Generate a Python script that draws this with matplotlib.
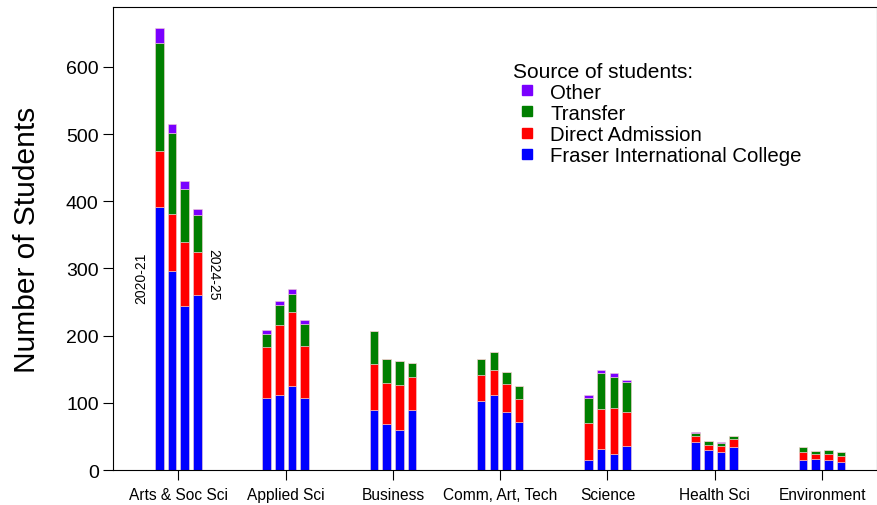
import matplotlib.pyplot as plt
import numpy as np
from matplotlib.lines import Line2D

plt.rcParams['font.family'] = ['Liberation Sans', 'DejaVu Sans']

faculties = ['Arts & Soc Sci', 'Applied Sci', 'Business', 'Comm, Art, Tech',
             'Science', 'Health Sci', 'Environment']

# four years per faculty, 2020-21 ... 2024-25
fic = [[391, 297, 244, 260],
       [107, 111, 125, 108],
       [90, 68, 60, 90],
       [103, 112, 86, 71],
       [15, 31, 24, 36],
       [42, 30, 27, 35],
       [15, 16, 15, 12]]
direct = [[84, 84, 96, 65],
          [76, 105, 110, 77],
          [68, 61, 67, 48],
          [38, 37, 42, 35],
          [55, 60, 69, 51],
          [8, 7, 9, 12],
          [12, 8, 9, 9]]
transfer = [[160, 121, 79, 54],
            [20, 30, 27, 33],
            [49, 36, 35, 21],
            [25, 27, 18, 19],
            [38, 53, 46, 44],
            [5, 6, 5, 3],
            [8, 5, 6, 6]]
other = [[23, 13, 11, 10],
         [5, 6, 7, 5],
         [0, 0, 0, 0],
         [0, 0, 0, 0],
         [4, 5, 5, 3],
         [1, 1, 1, 1],
         [0, 0, 0, 0]]

sources = ['Fraser International College', 'Direct Admission', 'Transfer', 'Other']
colors = ['#0000ff', '#ff0000', '#007f00', '#7a00ff']

fig = plt.figure(figsize=(8.78, 5.06), dpi=100)
ax = fig.add_axes([0.129, 0.069, 0.870, 0.915])

x = np.arange(len(faculties))
offsets = np.array([-1.5, -0.5, 0.5, 1.5]) * 0.118
width = 0.08

for i in range(len(faculties)):
    bottom = np.zeros(4)
    for series, col in zip([fic, direct, transfer, other], colors):
        vals = np.array(series[i], dtype=float)
        ax.bar(x[i] + offsets, vals, width, bottom=bottom, color=col,
               edgecolor='#f4d0d0', linewidth=0.4)
        bottom += vals

ax.text(-0.345, 287, '2020-21', rotation=90, ha='center', va='center', fontsize=10)
ax.text(0.326, 292, '2024-25', rotation=-90, ha='center', va='center', fontsize=10)

ax.set_xlim(-0.606, 6.513)
ax.set_ylim(0, 689)
ax.set_xticks(x)
ax.set_xticklabels(faculties, fontsize=11.2)
ax.set_yticks([0, 100, 200, 300, 400, 500, 600])
ax.tick_params(axis='y', labelsize=14, length=7)
ax.tick_params(axis='x', length=7, pad=5)
ax.set_ylabel('Number of Students', fontsize=21.5, labelpad=18)

handles = [Line2D([], [], marker='s', linestyle='none', color=c, markersize=7)
           for c in colors[::-1]]
leg = ax.legend(handles, sources[::-1], title='Source of students:', loc='upper left',
                bbox_to_anchor=(0.513, 0.9), frameon=False, fontsize=14.7,
                title_fontsize=15, handletextpad=0.5, labelspacing=0.1,
                borderaxespad=0, handlelength=1.3)
leg._legend_box.align = 'left'

plt.savefig('out.png', dpi=100)
